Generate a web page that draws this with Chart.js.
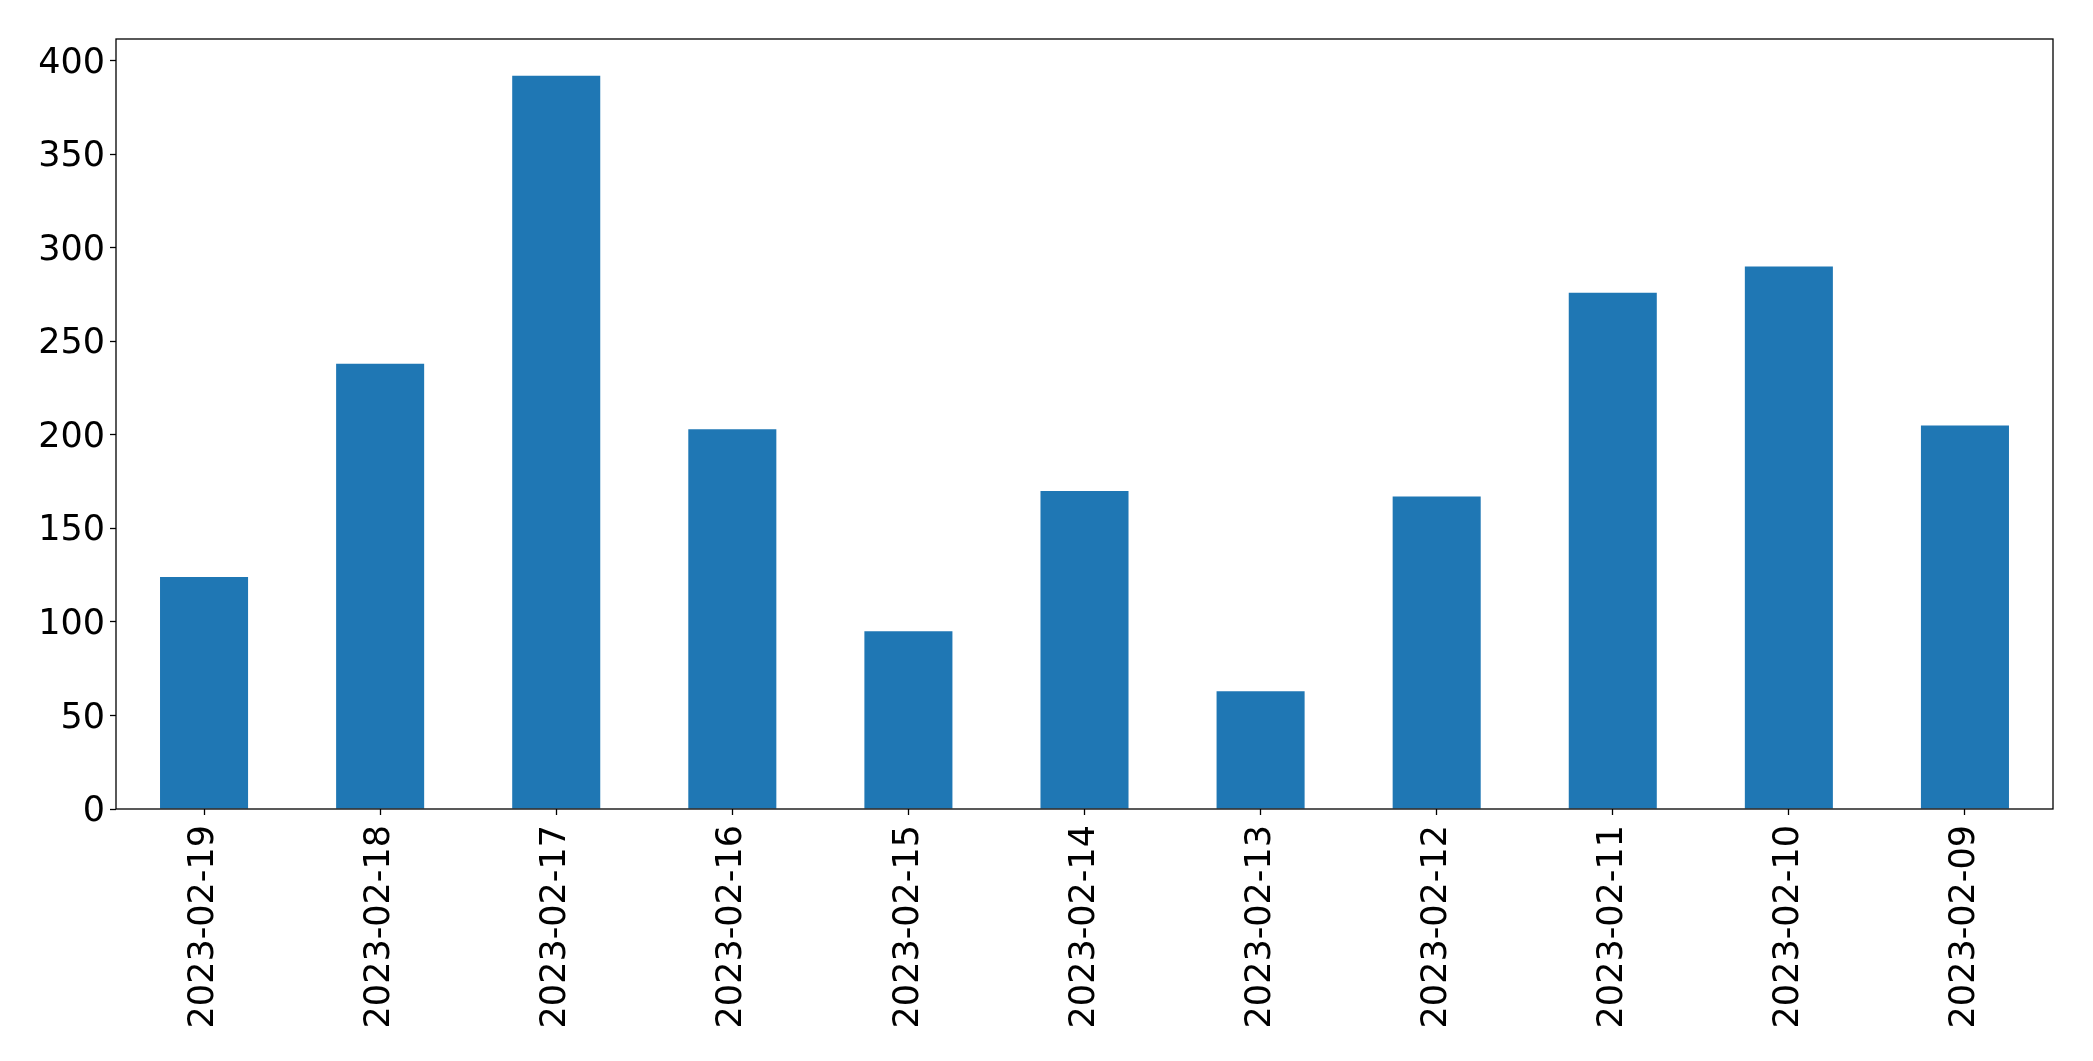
<!DOCTYPE html>
<html>
<head>
<meta charset="utf-8">
<script src="https://cdn.jsdelivr.net/npm/chart.js@4/dist/chart.umd.min.js"></script>
<style>
  html, body { margin: 0; padding: 0; background: #fff; }
  #wrap { width: 2093px; height: 1061px; }
</style>
</head>
<body>
<div id="wrap"><canvas id="chart"></canvas></div>
<script>
const dates = ['2023-02-19', '2023-02-18', '2023-02-17', '2023-02-16', '2023-02-15', '2023-02-14',
  '2023-02-13', '2023-02-12', '2023-02-11', '2023-02-10', '2023-02-09'];
const counts = [124, 238, 392, 203, 95, 170, 63, 167, 276, 290, 205];
const yTicks = [0, 50, 100, 150, 200, 250, 300, 350, 400];

// matplotlib-like frame around the plot area
const frame = {
  id: 'frame',
  afterDraw(chart) {
    const { ctx, chartArea: a } = chart;
    ctx.save();
    ctx.strokeStyle = '#000';
    ctx.lineWidth = 1.3;
    ctx.strokeRect(a.left, a.top, a.right - a.left, a.bottom - a.top);
    ctx.restore();
  },
};

const font = { family: '"DejaVu Sans", sans-serif', size: 35 };

new Chart(document.getElementById('chart'), {
  type: 'bar',
  data: {
    labels: dates,
    datasets: [{
      data: counts,
      backgroundColor: '#1f77b4',
      borderWidth: 0,
      categoryPercentage: 1,
      barPercentage: 0.5,
    }],
  },
  options: {
    responsive: true,
    maintainAspectRatio: false,
    animation: false,
    layout: { padding: { top: 39, right: 40, left: 0, bottom: 0 } },
    scales: {
      x: {
        grid: { display: true, offset: false, drawOnChartArea: false, tickLength: 6, color: '#000', tickWidth: 1.3 },
        border: { display: false },
        ticks: { color: '#000', font, minRotation: 90, maxRotation: 90, padding: 10, autoSkip: false },
        afterFit: scale => { scale.height = 252; },
      },
      y: {
        min: 0,
        max: 411.6,
        grid: { display: true, drawOnChartArea: false, tickLength: 6, color: '#000', tickWidth: 1.3 },
        border: { display: false },
        afterBuildTicks: scale => { scale.ticks = yTicks.map(v => ({ value: v })); },
        ticks: { color: '#000', font, padding: 5, labelOffset: 3 },
        afterFit: scale => { scale.width = 116; },
      },
    },
    plugins: {
      legend: { display: false },
      tooltip: { enabled: false },
    },
  },
  plugins: [frame],
});
</script>
</body>
</html>
